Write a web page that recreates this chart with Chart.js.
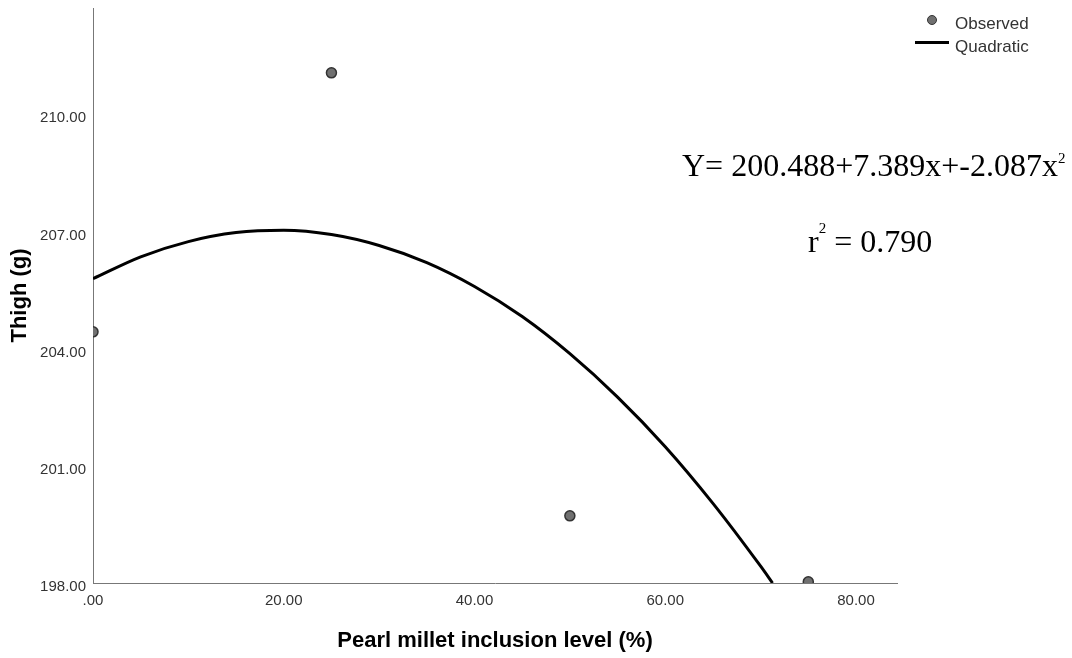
<!DOCTYPE html>
<html>
<head>
<meta charset="utf-8">
<script src="https://cdn.jsdelivr.net/npm/chart.js@4.4.0/dist/chart.umd.min.js"></script>
<style>
  html, body { margin: 0; padding: 0; background: #fff; }
  #wrap { position: relative; width: 1072px; height: 658px; }
  #chart { position: absolute; left: 0; top: 0; }
  .leg { position: absolute; font: 17px "Liberation Sans", Arial, sans-serif; line-height: 17px; color: #333; white-space: nowrap; }
  .eq { position: absolute; font: 32px "Liberation Serif", "Times New Roman", serif; line-height: 32px; color: #000; white-space: nowrap; }
  .sup { position: relative; font-size: 15px; }
</style>
</head>
<body>
<div id="wrap">
  <canvas id="chart" width="1072" height="658"></canvas>
  <span style="position:absolute;left:927px;top:15px;width:8px;height:8px;border-radius:50%;background:#707070;border:1px solid #333;"></span>
  <div class="leg" style="left:955px;top:15px;">Observed</div>
  <span style="position:absolute;left:915px;top:41px;width:34px;height:3px;background:#000;"></span>
  <div class="leg" style="left:955px;top:38px;">Quadratic</div>
  <div class="eq" style="left:682px;top:149px;">Y= 200.488+7.389x+-2.087x<span class="sup" style="top:-13px;">2</span></div>
  <div class="eq" style="left:808px;top:225px;">r<span class="sup" style="top:-19px;">2</span> = 0.790</div>
</div>
<script>
// observed means
const inclusionLevels = [0, 25, 50, 75];
const thighObserved = [204.43, 211.06, 199.72, 198.03];

// quadratic fit line
const curveLevels = [0, 5, 10, 15, 20, 25, 30, 35, 40, 45, 50, 55, 60, 65, 70, 71.25];
const curveThigh = [205.79, 206.35, 206.74, 206.97, 207.03, 206.92, 206.64, 206.20, 205.59, 204.82, 203.87, 202.76, 201.49, 200.04, 198.43, 198.00];

const xTicks = [0, 20, 40, 60, 80];
const yTicks = [198, 201, 204, 207, 210];

function fmt(v) {
  const s = v.toFixed(2);
  return v === 0 ? s.replace(/^0/, '') : s;
}

const tickFont = { family: '"Liberation Sans", Arial, sans-serif', size: 15 };
const titleFont = { family: '"Liberation Sans", Arial, sans-serif', size: 22, weight: 'bold' };

const ctx = document.getElementById('chart').getContext('2d');
new Chart(ctx, {
  type: 'scatter',
  data: {
    datasets: [
      {
        label: 'Quadratic',
        data: curveLevels.map((x, i) => ({ x: x, y: curveThigh[i] })),
        showLine: true,
        borderColor: '#000',
        borderWidth: 3,
        pointRadius: 0,
        cubicInterpolationMode: 'monotone',
        clip: { left: 0, top: 10, right: 10, bottom: 0 },
        order: 2
      },
      {
        label: 'Observed',
        data: inclusionLevels.map((x, i) => ({ x: x, y: thighObserved[i] })),
        pointRadius: 5,
        pointBackgroundColor: '#707070',
        pointBorderColor: '#333',
        pointBorderWidth: 1.5,
        clip: { left: 0, top: 10, right: 10, bottom: 0 },
        order: 1
      }
    ]
  },
  options: {
    responsive: false,
    animation: false,
    layout: { padding: { top: 8, right: 175, left: 0, bottom: 0 } },
    plugins: { legend: { display: false }, tooltip: { enabled: false } },
    scales: {
      x: {
        type: 'linear',
        min: 0,
        max: 84.3,
        afterBuildTicks: s => { s.ticks = xTicks.map(v => ({ value: v })); },
        afterFit: s => { s.height = 75; s.paddingLeft = 0; s.paddingRight = 0; },
        grid: { display: false, drawTicks: false },
        border: { color: '#777', width: 1 },
        ticks: { color: '#333', font: tickFont, padding: 9, maxRotation: 0, callback: v => fmt(v) },
        title: { display: true, text: 'Pearl millet inclusion level (%)', color: '#000', font: titleFont, padding: { top: 0, bottom: 4 } }
      },
      y: {
        min: 198,
        max: 212.72,
        afterBuildTicks: s => { s.ticks = yTicks.map(v => ({ value: v })); },
        afterFit: s => { s.width = 93; s.paddingTop = 0; s.paddingBottom = 0; },
        grid: { display: false, drawTicks: false },
        border: { color: '#777', width: 1 },
        ticks: { color: '#333', font: tickFont, padding: 7, labelOffset: 4, callback: v => fmt(v) },
        title: { display: true, text: 'Thigh (g)', color: '#000', font: titleFont, padding: { top: 7, bottom: 0 } }
      }
    }
  }
});
</script>
</body>
</html>
